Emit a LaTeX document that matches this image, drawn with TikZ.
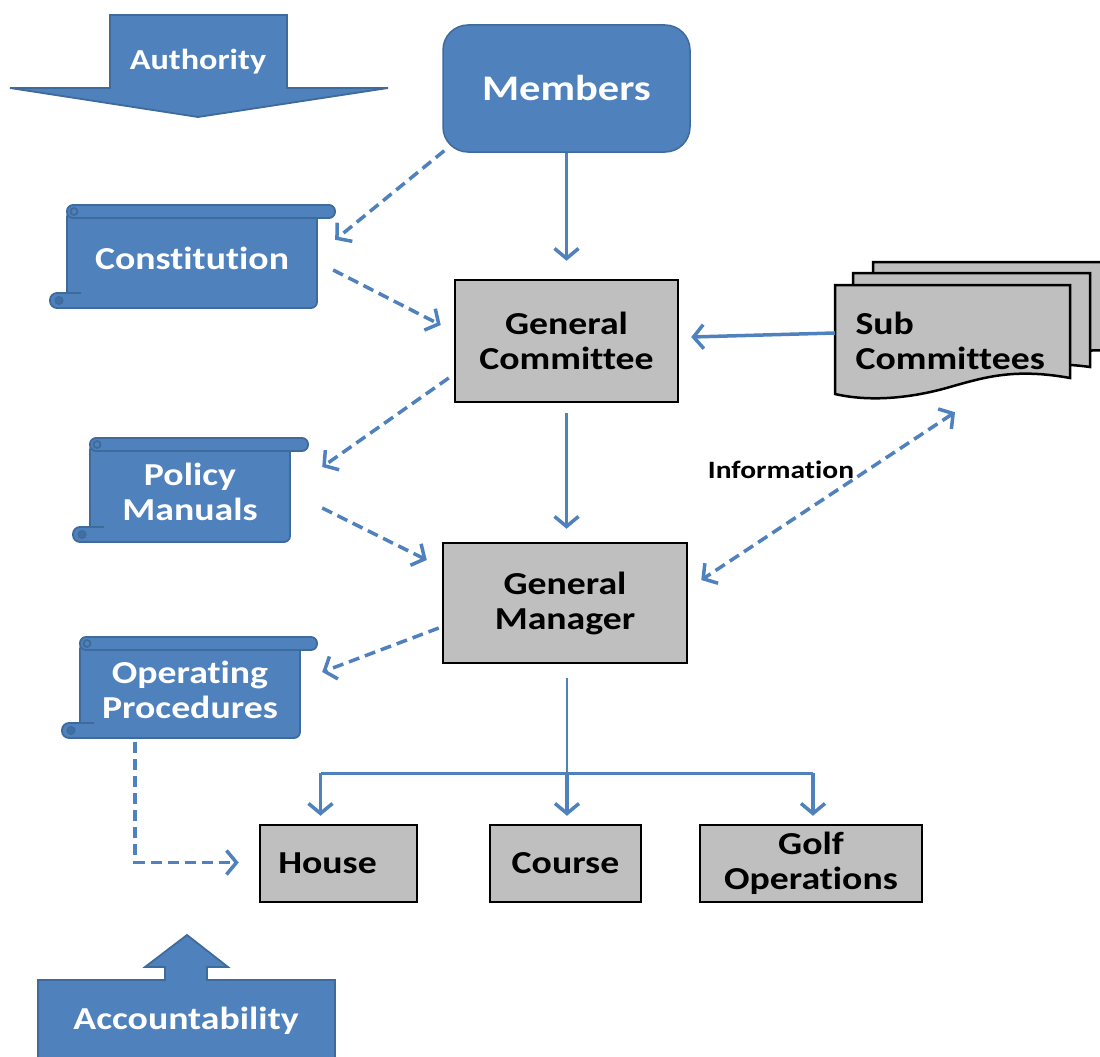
\documentclass[tikz,border=0pt]{standalone}
\usepackage{fontspec}
\setmainfont{Carlito}[FakeStretch=1.18, Ligatures={NoCommon}]
\usetikzlibrary{arrows.meta,calc}
\definecolor{bluef}{HTML}{4F81BD}
\definecolor{blued}{HTML}{3F6A9C}
\definecolor{grayf}{HTML}{BFBFBF}
\tikzset{
  lbl/.style={font=\fontsize{32}{35}\selectfont\bfseries, align=center},
  bluebox/.style={fill=bluef, draw=blued, line width=1.5pt, text=white},
  graybox/.style={fill=grayf, draw=black, line width=2.5pt, inner sep=0pt, lbl},
  ghost/.style={inner sep=0pt, lbl, text=white},
  scr/.style={fill=bluef, draw=blued, line width=1.8pt},
  docst/.style={fill=grayf, draw=black, line width=2.5pt},
  >={Straight Barb[length=10pt,width=24pt]},
  arr/.style={draw=bluef, line width=3.5pt, ->},
  darr/.style={arr, dash pattern=on 11pt off 6pt},
}
% #1 body left, #2 body right, #3 top, #4 bottom, #5 top roll right end, #6 bottom roll left end
\newcommand\myscroll[6]{%
  \filldraw[scr, rounded corners=6pt] (#1,#3+6) -- (#2,#3+6) -- (#2,#4) -- (#1,#4) -- cycle;
  \filldraw[scr, rounded corners=6pt] (#1,#3+13) -- (#1,#3) -- (#5,#3) -- (#5,#3+13) -- cycle;
  \filldraw[scr] (#1+7,#3+6.5) circle (3.5pt);
  \filldraw[scr, rounded corners=7pt] (#1+14,#4-15) -- (#6,#4-15) -- (#6,#4) -- (#1+14,#4);
  \filldraw[fill=blued!80!bluef, draw=blued, line width=1pt] (#6+9,#4-7.5) circle (4pt);
}
\begin{document}
\begin{tikzpicture}[x=1pt,y=-1pt]
\useasboundingbox (0,0) rectangle (1100,1057);

% Authority arrow
\filldraw[scr] (110,15) -- (287,15) -- (287,88) -- (388,88) -- (198,117) -- (10,88) -- (110,88) -- cycle;
\node[ghost, font=\fontsize{29}{32}\selectfont\bfseries] (auth) at (198,62) {Authority};

% Accountability arrow
\filldraw[scr] (38,980) -- (165,980) -- (165,967) -- (145,967) -- (187,935) -- (228,967) -- (207,967) -- (207,980) -- (335,980) -- (335,1062) -- (38,1062) -- cycle;
\node[ghost] (acc) at (186,1021) {Accountability};

% Members
\node[bluebox, rounded corners=25pt, minimum width=247pt, minimum height=127pt, inner sep=0pt,
      font=\fontsize{36}{40}\selectfont\bfseries] (mem) at (566.5,88.5) {Members};

% Scrolls
\myscroll{67}{317}{205}{308}{335}{50}
\node[ghost, minimum width=250pt, minimum height=103pt] (con) at (192,258.5) {Constitution};
\myscroll{90}{290}{438}{542}{308}{73}
\node[ghost, minimum width=200pt, minimum height=104pt] (pol) at (190,492) {Policy\\Manuals};
\myscroll{80}{300}{637}{738}{317}{62}
\node[ghost, minimum width=220pt, minimum height=101pt] (ops) at (190,689.5) {Operating\\Procedures};

% Gray boxes
\node[graybox, minimum width=223pt, minimum height=122pt] (gc) at (566.5,341) {General\\Committee};
\node[graybox, minimum width=244pt, minimum height=120pt] (gm) at (565,603) {General\\Manager};
\node[graybox, minimum width=157pt, minimum height=77pt] (house) at (338.5,863.5) {\hspace*{-22pt}House};
\node[graybox, minimum width=151pt, minimum height=77pt] (course) at (565.5,863.5) {Course};
\node[graybox, minimum width=222pt, minimum height=77pt] (golf) at (811,863.5) {Golf\\Operations};

% Sub committees (multi-document)
\begin{scope}
\clip (0,0) rectangle (1100,1057);
\filldraw[docst] (873,262) -- (1112,262) -- (1112,350) -- (873,356) -- cycle;
\end{scope}
\filldraw[docst] (853,273) -- (1090,273) -- (1090,367) .. controls (1040,360) and (1000,368) .. (960,378) -- (853,382) -- cycle;
\filldraw[docst] (835,285) -- (1070,285) -- (1070,378) .. controls (1015,368) and (985,377) .. (950,387) .. controls (905,400) and (865,401) .. (835,394) -- cycle;
\node[inner sep=0pt, minimum width=235pt, minimum height=112pt] (subdoc) at (952.5,341) {};
\node[lbl, align=left, anchor=west] (subtxt) at (852,341) {Sub\\Committees};

% Information label
\node[font=\fontsize{25}{28}\selectfont\bfseries] (info) at (781,470) {Information};

% Connectors
\draw[arr, shorten >=18pt] (mem.south) -- (gc.north);
\draw[darr] ($(mem.south west)+(2,-2)$) -- ($(con.north east)+(18,33)$);
\draw[darr] ($(con.east)+(16,11.5)$) -- ($(gc.west)+(-13,-16)$);
\draw[darr] ($(gc.west)+(-5,37)$) -- ($(pol.east)+(32,-25)$);
\draw[darr] ($(pol.east)+(32,16)$) -- ($(gm.west)+(-15,-43)$);
\draw[darr] ($(gm.west)+(-3,25)$) -- ($(ops.east)+(22,-17.5)$);
\draw[arr] ($(gc.south)+(0,10)$) -- ($(gc.south |- gm.north)+(0,-13)$);
\draw[arr] ($(subdoc.west)+(0,-8)$) -- ($(gc.east)+(12,-4)$);
\draw[darr, <->] ($(subdoc.south)+(2.5,15)$) -- ($(gm.east)+(13,-23)$);

\coordinate (split) at ($(gm.south)+(2,109)$);
\coordinate (lbr) at ($(split -| house.north)+(-18,0)$);
\coordinate (rbr) at ($(split -| golf.north)+(2,0)$);
\draw[draw=bluef, line width=1.5pt] ($(gm.south)+(2,14)$) -- (split);
\draw[draw=bluef, line width=3.5pt] (lbr) -- (rbr);
\draw[arr, shorten >=8pt] (lbr) -- (lbr |- house.north);
\draw[arr, shorten >=8pt] (split) -- (split |- course.north);
\draw[arr, shorten >=8pt] (rbr) -- (rbr |- golf.north);
\draw[darr] ($(ops.south)+(-55,2)$) |- ($(house.west)+(-20,-1)$);
\end{tikzpicture}
\end{document}
